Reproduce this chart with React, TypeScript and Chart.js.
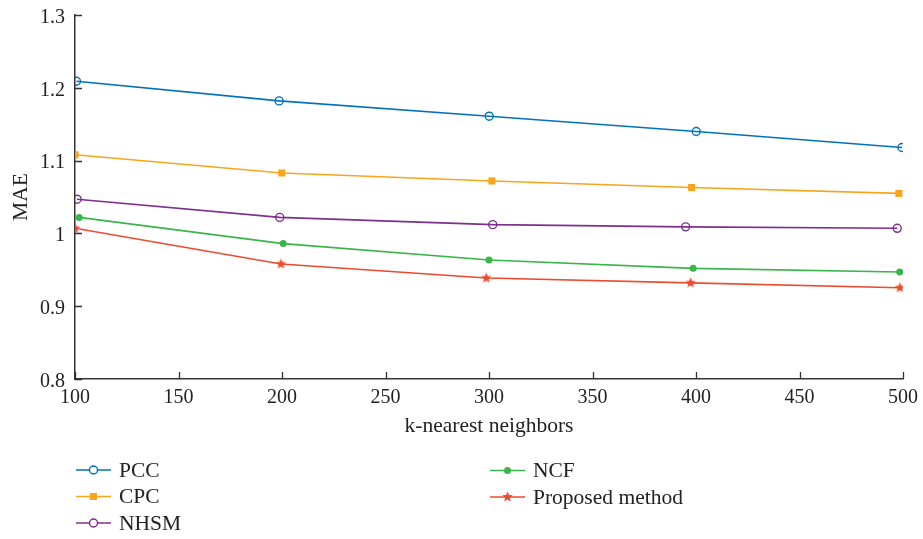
import React, { useEffect, useRef } from 'react';
import { Chart, registerables } from 'chart.js';
Chart.register(...registerables);

const seriesNames = ['PCC', 'CPC', 'NHSM', 'NCF', 'Proposed method'];
const pccX = [100.7, 198.6, 300.1, 400.1, 499.5];
const pccY = [1.209, 1.182, 1.161, 1.14, 1.118];
const cpcX = [100, 199.9, 301.4, 397.9, 498];
const cpcY = [1.108, 1.083, 1.072, 1.063, 1.055];
const nhsmX = [101, 198.9, 301.8, 395, 497.2];
const nhsmY = [1.047, 1.022, 1.012, 1.009, 1.007];
const ncfX = [102, 200.6, 300, 398.6, 498.4];
const ncfY = [1.022, 0.986, 0.9635, 0.952, 0.947];
const propX = [100, 199.5, 298.7, 397.4, 498.5];
const propY = [1.007, 0.958, 0.9387, 0.932, 0.9254];

const colors = ['#0072BD', '#F9A51B', '#7E2F8E', '#39B54A', '#EE4A2C'];
const FONT = "'Liberation Serif', 'Times New Roman', serif";
const TEXT = '#222222';
const AXIS = '#333333';

function makeStar(color: string, r: number) {
  const s = Math.ceil(r * 2 + 2);
  const c = document.createElement('canvas');
  c.width = s;
  c.height = s;
  const ctx = c.getContext('2d')!;
  drawStar(ctx, s / 2, s / 2, r, color);
  return c;
}

function drawStar(ctx: CanvasRenderingContext2D, cx: number, cy: number, r: number, color: string) {
  ctx.beginPath();
  for (let i = 0; i < 10; i++) {
    const a = -Math.PI / 2 + (i * Math.PI) / 5;
    const rad = i % 2 ? r * 0.45 : r;
    const px = cx + rad * Math.cos(a);
    const py = cy + rad * Math.sin(a);
    if (i === 0) ctx.moveTo(px, py);
    else ctx.lineTo(px, py);
  }
  ctx.closePath();
  ctx.fillStyle = color;
  ctx.fill();
}

function drawMarker(ctx: CanvasRenderingContext2D, idx: number, x: number, y: number) {
  const col = colors[idx];
  ctx.save();
  ctx.lineWidth = 1.4;
  ctx.strokeStyle = col;
  ctx.fillStyle = col;
  if (idx === 0 || idx === 2) {
    ctx.beginPath();
    ctx.arc(x, y, 4, 0, Math.PI * 2);
    ctx.fillStyle = '#fff';
    ctx.fill();
    ctx.stroke();
  } else if (idx === 1) {
    ctx.fillRect(x - 3.5, y - 3.5, 7, 7);
  } else if (idx === 3) {
    ctx.beginPath();
    ctx.arc(x, y, 3.5, 0, Math.PI * 2);
    ctx.fill();
  } else {
    drawStar(ctx, x, y, 5.5, col);
  }
  ctx.restore();
}

const legendPos = [
  { x: 76, y: 470 },
  { x: 76, y: 496.5 },
  { x: 76, y: 523 },
  { x: 490, y: 470.5 },
  { x: 490, y: 497 },
];

const legendPlugin = {
  id: 'customLegend',
  afterDraw(chart: any) {
    const ctx = chart.ctx as CanvasRenderingContext2D;
    ctx.save();
    seriesNames.forEach((name, i) => {
      const p = legendPos[i];
      ctx.strokeStyle = colors[i];
      ctx.lineWidth = 1.6;
      ctx.beginPath();
      ctx.moveTo(p.x, p.y);
      ctx.lineTo(p.x + 35, p.y);
      ctx.stroke();
      drawMarker(ctx, i, p.x + 17.5, p.y);
      ctx.fillStyle = TEXT;
      ctx.font = `21.5px ${FONT}`;
      ctx.textBaseline = 'middle';
      ctx.textAlign = 'left';
      ctx.fillText(name, p.x + 43, p.y + 1);
    });
    ctx.restore();
  },
};

const inwardTicks = {
  id: 'inwardTicks',
  afterDraw(chart: any) {
    const ctx = chart.ctx as CanvasRenderingContext2D;
    const xs = chart.scales.x;
    const ys = chart.scales.y;
    const area = chart.chartArea;
    ctx.save();
    ctx.strokeStyle = AXIS;
    ctx.lineWidth = 1.3;
    ctx.beginPath();
    xs.ticks.forEach((t: any) => {
      const px = Math.round(xs.getPixelForValue(t.value)) + 0.5;
      ctx.moveTo(px, area.bottom);
      ctx.lineTo(px, area.bottom - 7);
    });
    ys.ticks.forEach((t: any) => {
      const py = Math.round(ys.getPixelForValue(t.value)) + 0.5;
      ctx.moveTo(area.left, py);
      ctx.lineTo(area.left + 7, py);
    });
    ctx.stroke();
    ctx.restore();
  },
};

export default function App() {
  const ref = useRef<HTMLCanvasElement>(null);
  useEffect(() => {
    document.body.style.margin = '0';
    const canvas = ref.current!;
    const xsArr = [pccX, cpcX, nhsmX, ncfX, propX];
    const ysArr = [pccY, cpcY, nhsmY, ncfY, propY];
    const star = makeStar(colors[4], 5.5);
    const styles: any[] = ['circle', 'rect', 'circle', 'circle', star];
    const radii = [4, 5, 4, 3.5, 6];
    const datasets = seriesNames.map((name, i) => ({
      label: name,
      data: xsArr[i].map((x, j) => ({ x, y: ysArr[i][j] })),
      borderColor: colors[i],
      backgroundColor: i === 0 || i === 2 ? '#ffffff' : colors[i],
      pointBorderColor: colors[i],
      pointBackgroundColor: i === 0 || i === 2 ? 'rgba(255,255,255,0)' : colors[i],
      pointStyle: styles[i],
      pointRadius: radii[i],
      pointBorderWidth: i === 0 || i === 2 ? 1.4 : 0,
      borderWidth: 1.6,
      tension: 0,
      fill: false,
    }));
    const chart = new Chart(canvas, {
      type: 'line',
      data: { datasets },
      options: {
        responsive: false,
        animation: false,
        devicePixelRatio: 1,
        layout: { padding: { left: 0, right: 20, top: 15, bottom: 100 } },
        plugins: { legend: { display: false }, tooltip: { enabled: false } },
        scales: {
          x: {
            type: 'linear',
            min: 100,
            max: 500,
            ticks: { stepSize: 50, font: { family: FONT, size: 20 }, color: TEXT, padding: 7 },
            grid: { display: false, drawTicks: false, tickLength: 0 },
            border: { display: true, color: AXIS, width: 1.5 },
            title: {
              display: true,
              text: 'k-nearest neighbors',
              font: { family: FONT, size: 21.5 },
              color: TEXT,
              padding: { top: 0, bottom: 0 },
            },
            afterFit: (s: any) => {
              s.height = 60;
              s.paddingLeft = 0;
              s.paddingRight = 0;
            },
          },
          y: {
            type: 'linear',
            min: 0.8,
            max: 1.3,
            ticks: {
              stepSize: 0.1,
              font: { family: FONT, size: 20 },
              color: TEXT,
              padding: 10,
              labelOffset: 2.5,
              callback: (v: any) => String(+Number(v).toFixed(1)),
            },
            grid: { display: false, drawTicks: false, tickLength: 0 },
            border: { display: true, color: AXIS, width: 1.5 },
            title: {
              display: true,
              text: 'MAE',
              font: { family: FONT, size: 21.5 },
              color: TEXT,
              padding: { top: 8, bottom: 0 },
            },
            afterFit: (s: any) => {
              s.width = 75;
              s.paddingTop = 0;
              s.paddingBottom = 0;
            },
          },
        },
      },
      plugins: [inwardTicks, legendPlugin],
    });
    return () => chart.destroy();
  }, []);
  return (
    <div style={{ width: 923, height: 539 }}>
      <canvas ref={ref} width={923} height={539} style={{ display: 'block' }} />
    </div>
  );
}
